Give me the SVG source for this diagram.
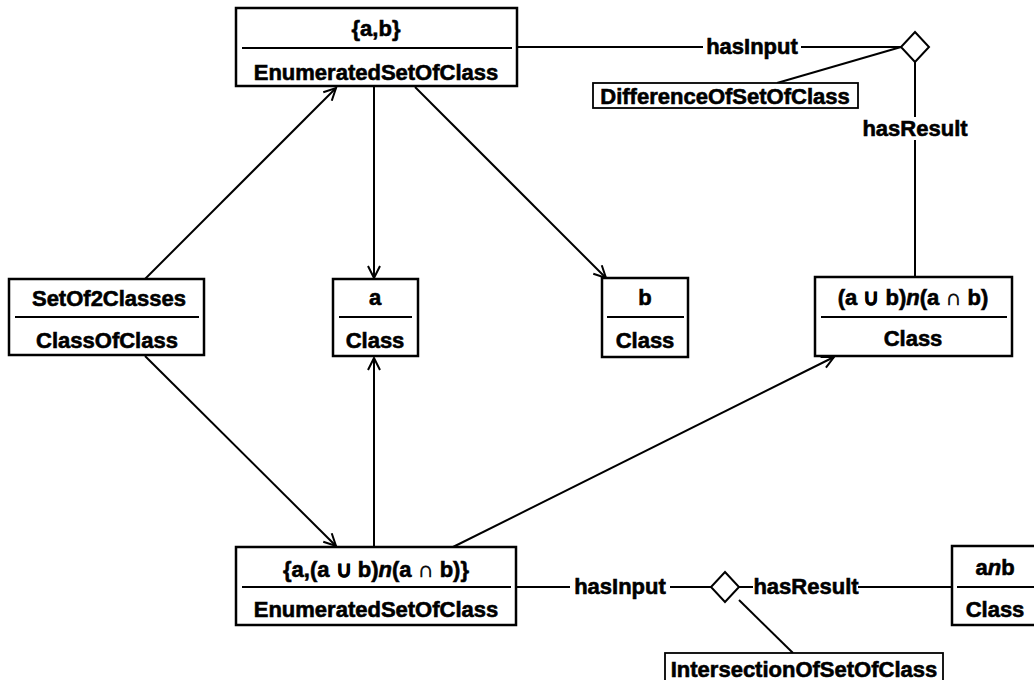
<svg xmlns="http://www.w3.org/2000/svg" width="1034" height="680" viewBox="0 0 1034 680">
<defs>
<style>
.box{fill:#fff;stroke:#000;stroke-width:2.5}
.sbox{fill:#fff;stroke:#000;stroke-width:1.8}
.div{stroke:#000;stroke-width:2}
.t{font-family:"Liberation Sans",Arial,sans-serif;font-weight:bold;font-size:22px;fill:#000;stroke:#000;stroke-width:0.6;text-anchor:middle}
.ln{stroke:#000;stroke-width:2;fill:none}
.dm{fill:#fff;stroke:#000;stroke-width:2}
</style>
<marker id="arr" markerUnits="userSpaceOnUse" markerWidth="16" markerHeight="16" viewBox="0 0 16 16" refX="14" refY="8" orient="auto">
<path d="M2,2 L14,8 L2,14" fill="none" stroke="#000" stroke-width="2"/>
</marker>
</defs>
<rect width="1034" height="680" fill="#fff"/>
<g id="connectors">
<line class="ln" x1="145" y1="279" x2="336" y2="88" marker-end="url(#arr)"/>
<line class="ln" x1="374" y1="87" x2="374" y2="278" marker-end="url(#arr)"/>
<line class="ln" x1="415" y1="87" x2="606" y2="278" marker-end="url(#arr)"/>
<line class="ln" x1="145" y1="356" x2="336" y2="546" marker-end="url(#arr)"/>
<line class="ln" x1="374" y1="547" x2="374" y2="358" marker-end="url(#arr)"/>
<line class="ln" x1="453" y1="547" x2="834" y2="357" marker-end="url(#arr)"/>
<line class="ln" x1="517" y1="47" x2="703" y2="47"/>
<text class="t" x="752" y="54">hasInput</text>
<line class="ln" x1="801" y1="47" x2="901" y2="47"/>
<line class="ln" x1="901" y1="47" x2="777" y2="83"/>
<line class="ln" x1="915" y1="62" x2="915" y2="117"/>
<text class="t" x="915" y="136">hasResult</text>
<line class="ln" x1="915" y1="140" x2="915" y2="277"/>
<polygon class="dm" points="915,32 929,47 915,62 901,47"/>
<line class="ln" x1="516" y1="587" x2="570" y2="587"/>
<text class="t" x="620" y="594">hasInput</text>
<line class="ln" x1="670" y1="587" x2="712" y2="587"/>
<line class="ln" x1="738" y1="587" x2="753" y2="587"/>
<text class="t" x="806" y="594">hasResult</text>
<line class="ln" x1="858" y1="587" x2="952" y2="587"/>
<line class="ln" x1="739" y1="600" x2="793" y2="653"/>
<polygon class="dm" points="725,572 739,587 725,602 711,587"/>
</g>
<g id="node-ab">
<rect class="box" x="236" y="8" width="281" height="78"/>
<line class="div" x1="242" y1="48" x2="512" y2="48"/>
<text class="t" x="376" y="36">{a,b}</text>
<text class="t" x="376" y="80">EnumeratedSetOfClass</text>
</g>
<g id="node-difference">
<rect class="sbox" x="593" y="83" width="265" height="25"/>
<text class="t" x="725" y="104">DifferenceOfSetOfClass</text>
</g>
<g id="node-setof2">
<rect class="box" x="9" y="279" width="195" height="76"/>
<line class="div" x1="15" y1="317" x2="199" y2="317"/>
<text class="t" x="109" y="306" font-size="23">SetOf2Classes</text>
<text class="t" x="107" y="348">ClassOfClass</text>
</g>
<g id="node-a">
<rect class="box" x="333" y="279" width="85" height="77"/>
<line class="div" x1="339" y1="317" x2="412" y2="317"/>
<text class="t" x="375" y="305">a</text>
<text class="t" x="375" y="348">Class</text>
</g>
<g id="node-b">
<rect class="box" x="602" y="278" width="86" height="79"/>
<line class="div" x1="607" y1="317" x2="684" y2="317"/>
<text class="t" x="645" y="305">b</text>
<text class="t" x="645" y="348">Class</text>
</g>
<g id="node-diff-result">
<rect class="box" x="815" y="277" width="197" height="79"/>
<line class="div" x1="821" y1="317" x2="1007" y2="317"/>
<text class="t" x="913" y="305">(a ∪ b)<tspan font-style="italic">n</tspan>(a ∩ b)</text>
<text class="t" x="913" y="346">Class</text>
</g>
<g id="node-set2">
<rect class="box" x="236" y="547" width="280" height="78"/>
<line class="div" x1="242" y1="587" x2="511" y2="587"/>
<text class="t" x="376" y="577">{a,(a ∪ b)<tspan font-style="italic">n</tspan>(a ∩ b)}</text>
<text class="t" x="376" y="617">EnumeratedSetOfClass</text>
</g>
<g id="node-anb">
<rect class="box" x="952" y="546" width="90" height="79"/>
<line class="div" x1="957" y1="587" x2="1040" y2="587"/>
<text class="t" x="995" y="575">a<tspan font-style="italic">n</tspan>b</text>
<text class="t" x="995" y="617">Class</text>
</g>
<g id="node-intersection">
<rect class="sbox" x="665" y="653" width="278" height="30"/>
<text class="t" x="804" y="677">IntersectionOfSetOfClass</text>
</g>
</svg>
